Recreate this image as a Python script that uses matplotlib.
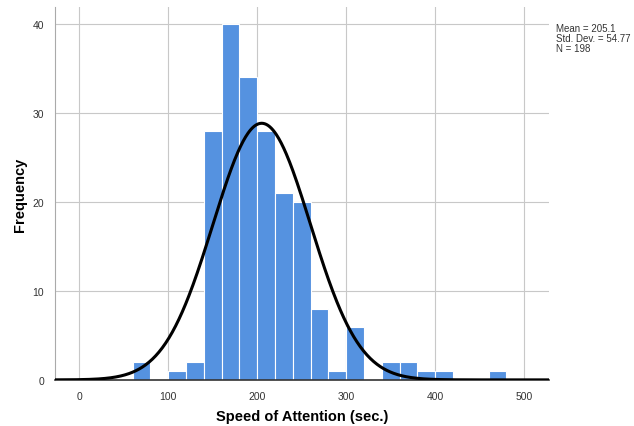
import matplotlib.pyplot as plt
import numpy as np

plt.rcParams['font.family'] = 'Liberation Sans'

# ==================== DATA ====================
bin_edges = [60, 80, 100, 120, 140, 160, 180, 200, 220, 240, 260, 280, 300,
             320, 340, 360, 380, 400, 420, 440, 460, 480]
counts = [2, 0, 1, 2, 28, 40, 34, 28, 21, 20, 8, 1, 6, 0, 2, 2, 1, 1, 0, 0, 1]
mean_val = 205.1
std_val = 54.77
n_val = 198
x_ticks = [0, 100, 200, 300, 400, 500]
y_ticks = [0, 10, 20, 30, 40]

# ==================== PLOT ====================
fig = plt.figure(figsize=(6.34, 4.27), dpi=100)
ax = fig.add_axes([0.087, 0.108, 0.779, 0.873])

left = np.array(bin_edges[:-1])
width = np.diff(bin_edges)
ax.bar(left, counts, width=width, align='edge', color='#5592e0',
       edgecolor='white', linewidth=0.8, zorder=2)

# normal curve scaled to counts
xs = np.linspace(-30, 530, 600)
bw = bin_edges[1] - bin_edges[0]
ys = n_val * bw / (std_val * np.sqrt(2 * np.pi)) * np.exp(-0.5 * ((xs - mean_val) / std_val) ** 2)
ax.plot(xs, ys, color='black', linewidth=2.2, zorder=3)

ax.set_xlim(-27, 528)
ax.set_ylim(0, 41.9)
ax.set_xticks(x_ticks)
ax.set_yticks(y_ticks)
ax.tick_params(length=0, labelsize=7.5, colors='#333333', pad=8)
ax.grid(True, color='#c8c8c8', linewidth=0.8, zorder=0)
ax.set_axisbelow(True)

for s in ['top', 'right']:
    ax.spines[s].set_visible(False)
ax.spines['left'].set_color('#aaaaaa')
ax.spines['bottom'].set_color('#333333')
ax.spines['bottom'].set_linewidth(1.2)

ax.set_xlabel('Speed of Attention (sec.)', fontsize=10.5, fontweight='bold', labelpad=6)
ax.set_ylabel('Frequency', fontsize=10.5, fontweight='bold', labelpad=4)

fig.text(0.877, 0.943, f'Mean = {mean_val}\nStd. Dev. = {std_val}\nN = {n_val}',
         fontsize=7, va='top', ha='left', color='#333333', linespacing=0.95)

plt.savefig('out.png', dpi=100)
